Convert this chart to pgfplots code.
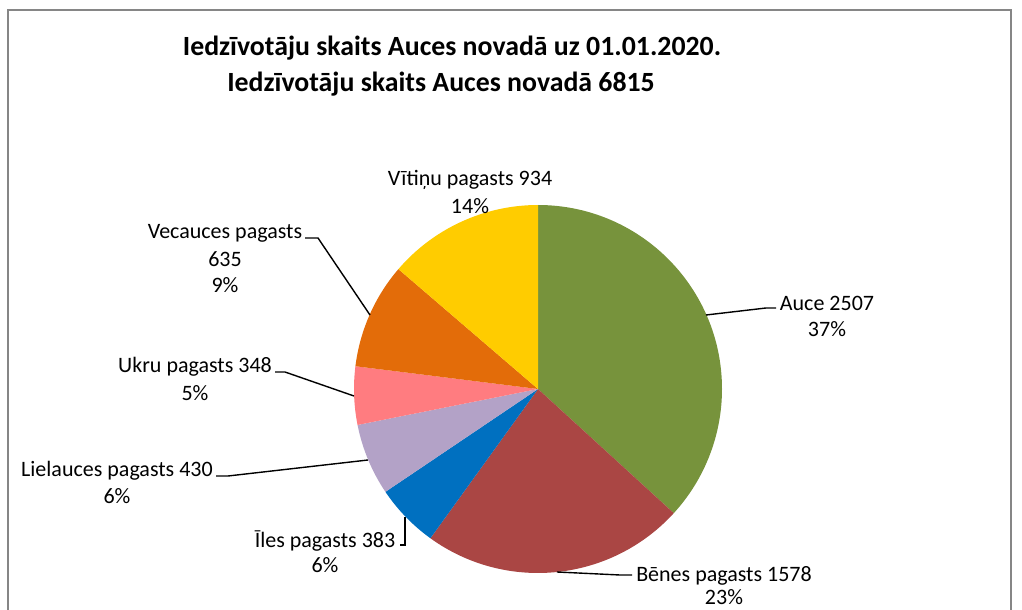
\documentclass[border=0pt]{standalone}
\usepackage{pgfplots}
\pgfplotsset{compat=1.18}
\usepackage{pgfplotstable}
\usepackage{fontspec}
\setmainfont{Carlito}
\definecolor{cAuce}{HTML}{77933C}
\definecolor{cBenes}{HTML}{AA4644}
\definecolor{cIles}{HTML}{0070C0}
\definecolor{cLiel}{HTML}{B3A2C7}
\definecolor{cUkru}{HTML}{FF7C80}
\definecolor{cVec}{HTML}{E36C09}
\definecolor{cVit}{HTML}{FFCC00}
\definecolor{frame}{HTML}{868686}
\pgfplotstableread{
name value col
Auce 2507 cAuce
Benes 1578 cBenes
Iles 383 cIles
Lielauces 430 cLiel
Ukru 348 cUkru
Vecauces 635 cVec
Vitinu 934 cVit
}\pietable
\begin{document}
\begin{tikzpicture}
\useasboundingbox (0,0) rectangle (1022bp,610bp);
\begin{axis}[x=1bp, y=1bp, xmin=0, xmax=1022, ymin=0, ymax=610,
  hide axis, clip=false, anchor=south west, at={(0,0)}]
\draw[frame, line width=2bp] (axis cs:8,-20) -- (axis cs:8,600) -- (axis cs:1011,600) -- (axis cs:1011,-20);
% total
\def\total{0}
\pgfplotsforeachungrouped \i in {0,...,6}{%
  \pgfplotstablegetelem{\i}{value}\of\pietable
  \pgfmathsetmacro\total{\total+\pgfplotsretval}%
}
\def\cum{0}
\pgfplotsforeachungrouped \i in {0,...,6}{%
  \pgfplotstablegetelem{\i}{value}\of\pietable \let\v=\pgfplotsretval
  \pgfplotstablegetelem{\i}{col}\of\pietable \let\c=\pgfplotsretval
  \pgfmathsetmacro\a{90-\cum/\total*360}%
  \pgfmathsetmacro\cum{\cum+\v}%
  \pgfmathsetmacro\b{90-\cum/\total*360}%
  \edef\temp{\noexpand\fill[\c] (axis cs:538,221) -- ++(\a:184bp) arc[start angle=\a, end angle=\b, radius=184bp] -- cycle;}%
  \temp
}
\tikzset{lbl/.style={font=\fontsize{22bp}{26bp}\selectfont, inner sep=0pt},
         ld/.style={black, line width=1.4bp}}
% title
\node[font=\fontsize{27.8bp}{32bp}\selectfont\bfseries, inner sep=0pt] at (axis cs:452,562) {Iedzīvotāju skaits Auces novadā uz 01.01.2020.};
\node[font=\fontsize{27.8bp}{32bp}\selectfont\bfseries, inner sep=0pt] at (axis cs:441,526) {Iedzīvotāju skaits Auces novadā 6815};
% labels
\node[lbl] at (axis cs:470,430) {Vītiņu pagasts 934};
\node[lbl] at (axis cs:470,404) {14\%};
\node[lbl] at (axis cs:225,377) {Vecauces pagasts};
\node[lbl] at (axis cs:225,351) {635};
\node[lbl] at (axis cs:225,325) {9\%};
\node[lbl] at (axis cs:195,243) {Ukru pagasts 348};
\node[lbl] at (axis cs:195,217) {5\%};
\node[lbl] at (axis cs:117,139) {Lielauces pagasts 430};
\node[lbl] at (axis cs:117,114) {6\%};
\node[lbl] at (axis cs:325,69) {Īles pagasts 383};
\node[lbl] at (axis cs:325,45) {6\%};
\node[lbl] at (axis cs:724,34) {Bēnes pagasts 1578};
\node[lbl] at (axis cs:724,13) {23\%};
\node[lbl] at (axis cs:827,307) {Auce 2507};
\node[lbl] at (axis cs:827,281) {37\%};
% leaders
\draw[ld] (axis cs:706,295) -- (axis cs:766,302) -- (axis cs:776,302);
\draw[ld] (axis cs:557,38) -- (axis cs:620,35) -- (axis cs:632,35);
\draw[ld] (axis cs:405,93) -- (axis cs:405,65) -- (axis cs:400,65);
\draw[ld] (axis cs:368,150) -- (axis cs:228,134) -- (axis cs:216,134);
\draw[ld] (axis cs:354,214) -- (axis cs:285,238) -- (axis cs:275,238);
\draw[ld] (axis cs:370,295) -- (axis cs:318,372) -- (axis cs:305,372);
\end{axis}
\end{tikzpicture}
\end{document}
